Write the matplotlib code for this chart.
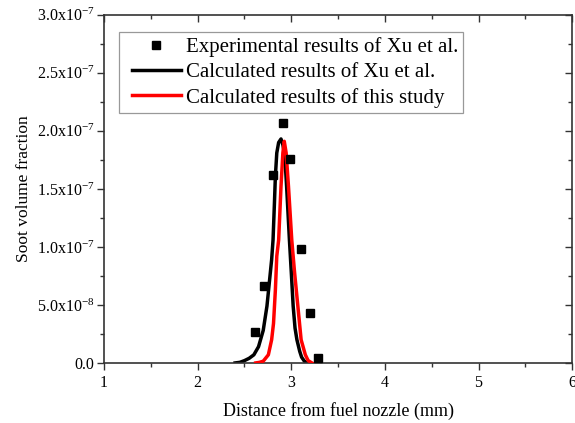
import numpy as np
import matplotlib
matplotlib.use("Agg")
import matplotlib.pyplot as plt
from matplotlib.ticker import MultipleLocator
from matplotlib.lines import Line2D
from matplotlib.legend_handler import HandlerLine2D

plt.rcParams['font.family'] = ['Liberation Serif', 'DejaVu Serif']
plt.rcParams['mathtext.fontset'] = 'custom'
plt.rcParams['mathtext.rm'] = 'Liberation Serif'
plt.rcParams['mathtext.it'] = 'Liberation Serif:italic'

# experimental points (Xu et al.)
exp_x = [2.61, 2.71, 2.80, 2.91, 2.99, 3.10, 3.20, 3.29]
exp_y = [2.7e-8, 6.6e-8, 1.62e-7, 2.07e-7, 1.76e-7, 9.8e-8, 4.3e-8, 4.0e-9]

# calculated profile, Xu et al.
xu_x = [2.40, 2.45, 2.50, 2.55, 2.60, 2.65, 2.70, 2.74, 2.76, 2.79, 2.805,
        2.82, 2.83, 2.845, 2.865, 2.89, 2.91, 2.93, 2.95, 2.98, 3.00, 3.02,
        3.04, 3.06, 3.09, 3.11, 3.14, 3.17]
xu_y = [0.0, 0.5e-9, 2.0e-9, 4.0e-9, 7.0e-9, 1.4e-8, 2.8e-8, 4.9e-8, 6.5e-8,
        8.9e-8, 1.06e-7, 1.38e-7, 1.61e-7, 1.81e-7, 1.90e-7, 1.93e-7, 1.88e-7,
        1.79e-7, 1.52e-7, 1.06e-7, 7.8e-8, 4.9e-8, 3.0e-8, 2.0e-8, 1.0e-8,
        5.0e-9, 1.5e-9, 0.0]

# calculated profile, this study
st_x = [2.62, 2.66, 2.70, 2.755, 2.79, 2.81, 2.83, 2.845, 2.865, 2.89, 2.91,
        2.925, 2.945, 2.97, 3.005, 3.035, 3.07, 3.105, 3.15, 3.18, 3.22]
st_y = [0.0, 0.5e-9, 1.5e-9, 7.0e-9, 2.0e-8, 3.4e-8, 6.3e-8, 9.2e-8, 1.06e-7,
        1.52e-7, 1.81e-7, 1.91e-7, 1.81e-7, 1.52e-7, 1.06e-7, 7.8e-8, 4.9e-8,
        2.0e-8, 7.0e-9, 2.0e-9, 0.0]

x_ticks = [1, 2, 3, 4, 5, 6]
y_ticks = [0.0, 5e-8, 1e-7, 1.5e-7, 2e-7, 2.5e-7, 3e-7]
y_labels = ['0.0', '5.0x10$^{-8}$', '1.0x10$^{-7}$', '1.5x10$^{-7}$',
            '2.0x10$^{-7}$', '2.5x10$^{-7}$', '3.0x10$^{-7}$']

fig = plt.figure(figsize=(5.75, 4.23), dpi=100)
ax = fig.add_axes([0.181, 0.142, 0.814, 0.823])

ax.plot(exp_x, exp_y, 's', color='black', markersize=5.5, linestyle='none',
        label='Experimental results of Xu et al.', zorder=4)
ax.plot(xu_x, xu_y, color='black', linewidth=2.5,
        label='Calculated results of Xu et al.', zorder=2)
ax.plot(st_x, st_y, color='red', linewidth=2.5,
        label='Calculated results of this study', zorder=3)

ax.set_xlim(1, 6)
ax.set_ylim(0, 3e-7)
ax.set_xticks(x_ticks)
ax.set_yticks(y_ticks)
ax.set_yticklabels(y_labels)
ax.xaxis.set_minor_locator(MultipleLocator(0.5))
ax.yaxis.set_minor_locator(MultipleLocator(2.5e-8))

for s in ax.spines.values():
    s.set_linewidth(1.2)
    s.set_color('#333333')
ax.tick_params(which='both', labelsize=11.5, width=1.0, color='#333333')
ax.tick_params(which='major', length=5)
ax.tick_params(which='minor', length=3)
ax.tick_params(axis='x', which='both', top=True, labeltop=False, pad=4)
ax.tick_params(axis='y', which='both', right=True, labelright=False, pad=2)

# mirror ticks on the top and right point inward
for t in ax.xaxis.get_major_ticks() + ax.xaxis.get_minor_ticks():
    t.tick2line.set_marker(3)
for t in ax.yaxis.get_major_ticks() + ax.yaxis.get_minor_ticks():
    t.tick2line.set_marker(0)

ax.set_xlabel('Distance from fuel nozzle (mm)', fontsize=13, labelpad=8)
ax.set_ylabel('Soot volume fraction', fontsize=12.5, labelpad=3)

leg = ax.legend(loc='upper left', bbox_to_anchor=(0.032, 0.951), fontsize=15,
                handlelength=2.7, handletextpad=0.25, labelspacing=0.27,
                borderpad=0.25, borderaxespad=0, fancybox=False,
                framealpha=1, handler_map={Line2D: HandlerLine2D(xpad=0.35)})
leg.get_frame().set_edgecolor('#999999')
leg.get_frame().set_linewidth(0.9)

fig.savefig('out.png', dpi=100)
